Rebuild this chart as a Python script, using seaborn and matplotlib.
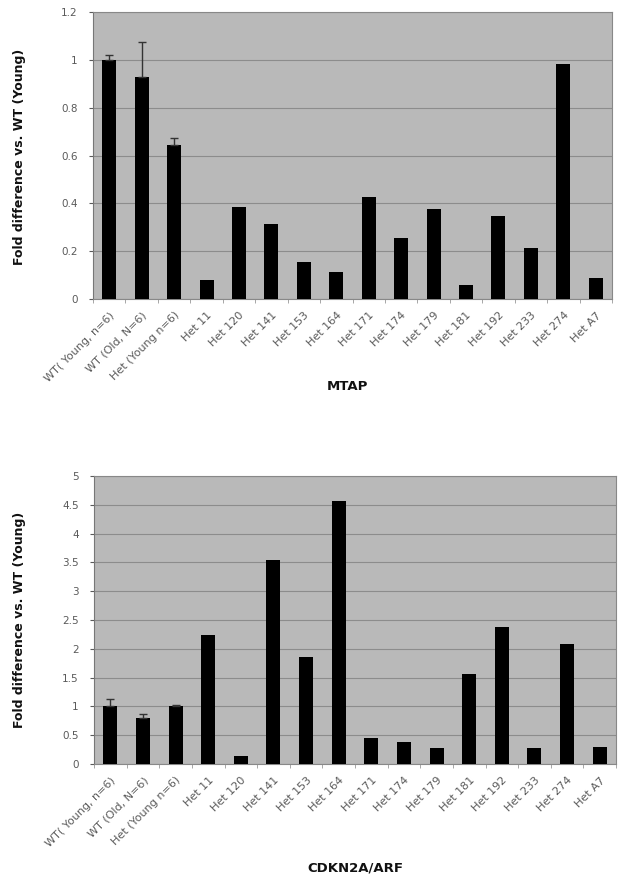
import numpy as np
import pandas as pd
import matplotlib
matplotlib.use("Agg")
import matplotlib.pyplot as plt
import seaborn as sns

categories = ["WT( Young, n=6)", "WT (Old, N=6)", "Het (Young n=6)", "Het 11", "Het 120",
              "Het 141", "Het 153", "Het 164", "Het 171", "Het 174", "Het 179", "Het 181",
              "Het 192", "Het 233", "Het 274", "Het A7"]
mtap_values = [1.0, 0.928, 0.643, 0.080, 0.385, 0.314, 0.156, 0.113, 0.428, 0.253,
               0.378, 0.059, 0.346, 0.212, 0.984, 0.087]
mtap_err = [0.02, 0.145, 0.03, 0, 0, 0, 0, 0, 0, 0, 0, 0, 0, 0, 0, 0]
cdkn_values = [1.0, 0.79, 1.0, 2.24, 0.145, 3.55, 1.855, 4.57, 0.46, 0.376, 0.283,
               1.56, 2.38, 0.283, 2.09, 0.295]
cdkn_err = [0.13, 0.08, 0.02, 0, 0, 0, 0, 0, 0, 0, 0, 0, 0, 0, 0, 0]
mtap_yticks = [0, 0.2, 0.4, 0.6, 0.8, 1, 1.2]
cdkn_yticks = [0, 0.5, 1, 1.5, 2, 2.5, 3, 3.5, 4, 4.5, 5]

sns.set_style("white")
plt.rcParams['font.family'] = ['DejaVu Sans']

W, H = 624, 881
fig = plt.figure(figsize=(6.24, 8.81), dpi=100)
ax1 = fig.add_axes([93 / W, 1 - 299 / H, (612 - 93) / W, (299 - 12) / H])
ax2 = fig.add_axes([94 / W, 1 - 764 / H, (616 - 94) / W, (764 - 476) / H])

BG = "#b9b9b9"
GRID = "#8c8c8c"
TICKC = "#5a5a5a"

def draw(ax, vals, errs, yticks):
    df = pd.DataFrame({"cat": categories, "val": vals})
    ax.set_facecolor(BG)
    sns.barplot(data=df, x="cat", y="val", color="black", saturation=1, width=0.43,
                edgecolor="black", linewidth=0, ax=ax, zorder=3)
    x = np.arange(len(categories))
    e = np.array(errs)
    mask = e > 0
    ax.errorbar(x[mask], np.array(vals)[mask],
                yerr=[np.zeros(mask.sum()), e[mask]], fmt="none",
                ecolor="#333333", elinewidth=1.0, capsize=3, capthick=1.0, zorder=4)
    ax.set_ylim(yticks[0], yticks[-1])
    ax.set_xlim(-0.5, len(categories) - 0.5)
    ax.set_yticks(yticks)
    ax.set_yticklabels([f"{t:g}" for t in yticks], fontsize=7.5, color=TICKC)
    ax.yaxis.grid(True, color=GRID, linewidth=0.8, zorder=0)
    ax.set_axisbelow(True)
    ax.set_xticks(x)
    ax.set_xticklabels(categories, rotation=45, ha="right", rotation_mode="anchor",
                       fontsize=8, color=TICKC)
    ax.tick_params(axis="x", length=0, pad=8)
    ax.tick_params(axis="y", length=3, color=TICKC, pad=8, left=True)
    ax.set_xticks(np.arange(-0.5, len(categories), 1), minor=True)
    ax.tick_params(axis="x", which="minor", length=3, color="#999999", bottom=True)
    for s in ax.spines.values():
        s.set_color("#888888")
        s.set_linewidth(0.8)
    ax.spines["left"].set_color("#777777")
    ax.set_xlabel("")
    ax.set_ylabel("")

draw(ax1, mtap_values, mtap_err, mtap_yticks)
draw(ax2, cdkn_values, cdkn_err, cdkn_yticks)

ylab = "Fold difference vs. WT (Young)"
fig.text(20 / W, 1 - 157 / H, ylab, rotation=90, ha="center", va="center",
         fontsize=9, fontweight="bold", color="#111111")
fig.text(20 / W, 1 - 620 / H, ylab, rotation=90, ha="center", va="center",
         fontsize=9, fontweight="bold", color="#111111")
fig.text(347 / W, 1 - 386 / H, "MTAP", ha="center", va="center",
         fontsize=9.5, fontweight="bold", color="#111111")
fig.text(355 / W, 1 - 868 / H, "CDKN2A/ARF", ha="center", va="center",
         fontsize=9.5, fontweight="bold", color="#111111")

fig.savefig("out.png", dpi=100)
